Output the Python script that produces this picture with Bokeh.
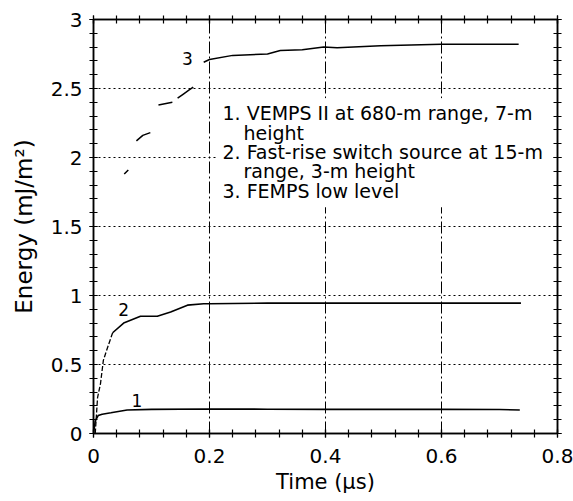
from bokeh.plotting import figure
from bokeh.models import FixedTicker, LinearAxis, BoxAnnotation, Range1d
from bokeh.core.properties import value
from bokeh.embed import file_html
from bokeh.resources import INLINE
import math

# ---------------- data ----------------
x_ticks = [0.0, 0.2, 0.4, 0.6, 0.8]
x_tick_labels = ["0", "0.2", "0.4", "0.6", "0.8"]
x_minor = [0.04 * i for i in range(21)]
y_ticks = [0.0, 0.5, 1.0, 1.5, 2.0, 2.5, 3.0]
y_tick_labels = ["0", "0.5", "1", "1.5", "2", "2.5", "3"]
y_minor = [0.1 * i for i in range(31)]

# curve 1: VEMPS II
t1 = [0.0, 0.003, 0.008, 0.015, 0.03, 0.058, 0.1, 0.2, 0.3, 0.4, 0.5, 0.6, 0.7, 0.735]
e1 = [0.0, 0.09, 0.13, 0.14, 0.15, 0.17, 0.175, 0.178, 0.176, 0.175, 0.176, 0.175, 0.174, 0.17]

# curve 2: fast-rise switch source
t2 = [0.003, 0.007, 0.012, 0.017, 0.024, 0.033, 0.052, 0.081, 0.11, 0.133, 0.162, 0.19, 0.2,
      0.3, 0.4, 0.5, 0.6, 0.7, 0.737]
e2 = [0.0, 0.26, 0.36, 0.53, 0.62, 0.73, 0.80, 0.85, 0.85, 0.88, 0.93, 0.94, 0.94,
      0.945, 0.945, 0.945, 0.945, 0.945, 0.945]

# curve 3: FEMPS low level (broken trace at the start)
t3 = [0.053, 0.060, math.nan, 0.074, 0.085, 0.098, math.nan, 0.112, 0.136, math.nan,
      0.145, 0.155, 0.165, 0.172, math.nan,
      0.19, 0.2, 0.24, 0.3, 0.322, 0.36, 0.397, 0.42, 0.495, 0.6, 0.733]
e3 = [1.88, 1.91, math.nan, 2.12, 2.16, 2.18, math.nan, 2.38, 2.40, math.nan,
      2.43, 2.46, 2.49, 2.51, math.nan,
      2.69, 2.71, 2.74, 2.75, 2.775, 2.78, 2.80, 2.795, 2.81, 2.82, 2.82]

curve_labels = ["1", "2", "3"]
curve_label_x = [0.075, 0.052, 0.162]
curve_label_y = [0.24, 0.90, 2.72]

legend_lines = ["1. VEMPS II at 680-m range, 7-m", "height",
                "2. Fast-rise switch source at 15-m", "range, 3-m height",
                "3. FEMPS low level"]
legend_indent = [0, 1, 0, 1, 0]

FONT = "DejaVu Sans"

p = figure(width=573, height=501, x_range=Range1d(0, 0.8), y_range=Range1d(0, 3),
           output_backend="svg", toolbar_location=None,
           min_border_left=93, min_border_right=16, min_border_top=19, min_border_bottom=68)
p.background_fill_color = "white"
p.border_fill_color = "white"
p.outline_line_color = "black"
p.outline_line_width = 1.5

xt = FixedTicker(ticks=x_ticks, minor_ticks=x_minor)
yt = FixedTicker(ticks=y_ticks, minor_ticks=y_minor)


def style_axis(ax, ticker, labels=None):
    ax.ticker = ticker
    ax.axis_line_color = "black"
    ax.axis_line_width = 1.5
    ax.major_tick_line_color = "black"
    ax.minor_tick_line_color = "black"
    ax.major_tick_line_width = 1.2
    ax.minor_tick_line_width = 1.2
    ax.major_tick_in = 4
    ax.major_tick_out = 4
    ax.minor_tick_in = 4
    ax.minor_tick_out = 4
    if labels is None:
        ax.major_label_text_font_size = "1px"
        ax.major_label_text_color = None
        ax.major_label_standoff = 0
    else:
        ax.major_label_overrides = labels
        ax.major_label_text_font = FONT
        ax.major_label_text_font_size = "20px"
        ax.major_label_text_color = "black"
        ax.axis_label_text_font = FONT
        ax.axis_label_text_font_size = "21px"
        ax.axis_label_text_font_style = "normal"
        ax.axis_label_text_color = "black"


xlab = dict(zip(x_ticks, x_tick_labels))
ylab = dict(zip(y_ticks, y_tick_labels))

style_axis(p.xaxis[0], xt, xlab)
style_axis(p.yaxis[0], yt, ylab)
p.xaxis[0].axis_label = "Time (μs)"
p.yaxis[0].axis_label = "Energy (mJ/m²)"
p.yaxis[0].axis_label_text_font_size = "23px"
p.xaxis[0].major_label_standoff = 11
p.yaxis[0].major_label_standoff = 7
p.xaxis[0].axis_label_standoff = 4
p.yaxis[0].axis_label_standoff = 11

ax_top = LinearAxis()
style_axis(ax_top, xt)
p.add_layout(ax_top, "above")
ax_right = LinearAxis()
style_axis(ax_right, yt)
p.add_layout(ax_right, "right")

p.xgrid.ticker = xt
p.ygrid.ticker = yt
p.xgrid.grid_line_color = "black"
p.xgrid.grid_line_dash = "12 3 2 3"
p.xgrid.grid_line_width = 1
p.ygrid.grid_line_color = "black"
p.ygrid.grid_line_dash = "2 3"
p.ygrid.grid_line_width = 1

# white area behind legend text (hides grid)
p.add_layout(BoxAnnotation(left=0.212, right=0.795, bottom=1.64, top=2.43,
                           fill_color="white", fill_alpha=1, line_alpha=0,
                           level="underlay"))

# curves
p.line(t1, e1, line_color="black", line_width=1.6)
k = 6
p.line(t2[:k], e2[:k], line_color="black", line_width=1.3, line_dash="5 2")
p.line(t2[k - 1:], e2[k - 1:], line_color="black", line_width=1.6)
p.line(t3, e3, line_color="black", line_width=1.5)

p.text(curve_label_x, curve_label_y, text=curve_labels, text_font=value(FONT),
       text_font_size="17px", text_align="center", text_baseline="middle",
       text_color="black")

# legend text
lx0 = 0.2224
lind = 0.0362
ly0 = 2.32
ldy = 0.14
lx = [lx0 + lind * i for i in legend_indent]
ly = [ly0 - ldy * j for j in range(len(legend_lines))]
p.text(lx, ly, text=legend_lines, text_font=value(FONT), text_font_size="19px",
       text_align="left", text_baseline="alphabetic", text_color="black")

open("out.html", "w").write(file_html(p, INLINE))
